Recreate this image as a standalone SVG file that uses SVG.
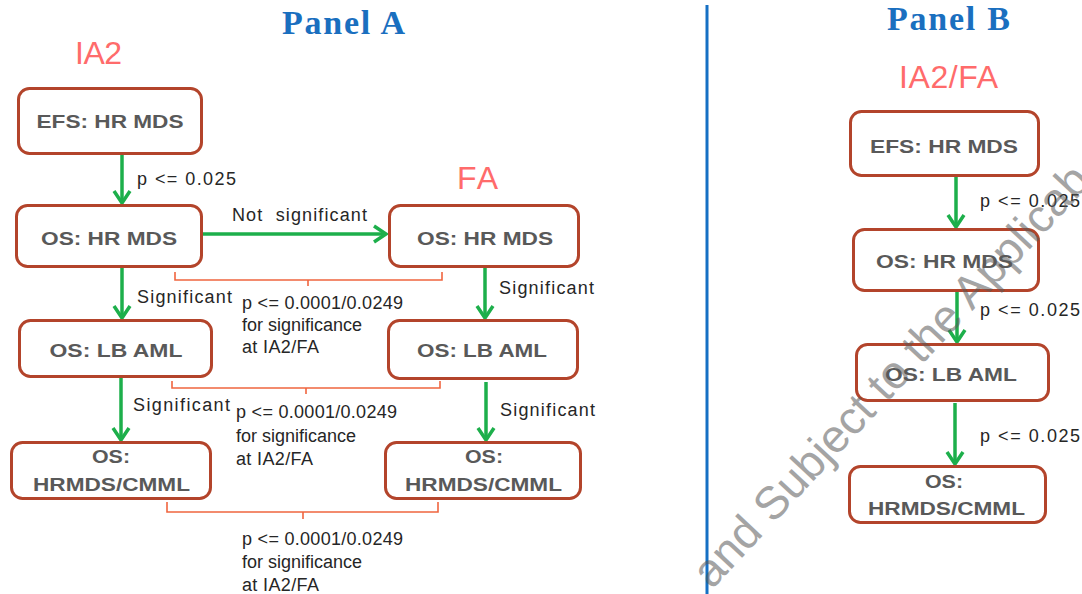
<svg xmlns="http://www.w3.org/2000/svg" width="1082" height="594" viewBox="0 0 1082 594">
<defs>
<style>
.title{font-family:"Liberation Serif","Times New Roman",serif;font-weight:bold;font-size:34px;fill:#1A6FBF}
.phase{font-family:"Liberation Sans",Arial,sans-serif;font-size:32px;fill:#FF6B6B}
.box{fill:#FFFFFF;stroke:#B3442B;stroke-width:3}
.nt{font-family:"Liberation Sans",Arial,sans-serif;font-weight:bold;font-size:19px;fill:#595959;text-anchor:middle}
.lbl{font-family:"Liberation Sans",Arial,sans-serif;font-size:18px;fill:#262626}
.arr{stroke:#1DAF4B;stroke-width:3.5;fill:none;marker-end:url(#ah)}
.br{stroke:#F0653F;stroke-width:1.6;fill:none}
.wm{font-family:"Liberation Sans",Arial,sans-serif;font-size:46px;fill:#5a5a5a;opacity:0.55}
</style>
<marker id="ah" viewBox="0 0 16 20" refX="14" refY="10" markerWidth="16" markerHeight="20" markerUnits="userSpaceOnUse" orient="auto">
<path d="M2,2 L14,10 L2,18" stroke="#1DAF4B" stroke-width="3.5" fill="none"/>
</marker>
</defs>
<rect width="1082" height="594" fill="#FFFFFF"/>

<!-- divider -->
<line id="divider" x1="707" y1="5" x2="707" y2="594" stroke="#1670C4" stroke-width="3"/>

<!-- headings -->
<g id="headings">
<text class="title" x="282" y="34" textLength="123">Panel A</text>
<text class="title" x="887" y="30" textLength="123">Panel B</text>
<text class="phase" x="75" y="64" textLength="47">IA2</text>
<text class="phase" x="457" y="189" textLength="41">FA</text>
<text class="phase" x="899" y="88" textLength="99">IA2/FA</text>
</g>

<!-- connectors -->
<g id="connectors">
<line class="arr" x1="122" y1="155" x2="122" y2="203"/>
<line class="arr" x1="203" y1="234" x2="386" y2="234"/>
<line class="arr" x1="122" y1="268" x2="122" y2="318"/>
<line class="arr" x1="485" y1="268" x2="485" y2="318"/>
<line class="arr" x1="121" y1="378" x2="121" y2="440"/>
<line class="arr" x1="486" y1="382" x2="486" y2="440"/>
<line class="arr" x1="956" y1="177" x2="956" y2="227"/>
<line class="arr" x1="957" y1="292" x2="957" y2="342"/>
<line class="arr" x1="955" y1="403" x2="955" y2="464"/>
<path class="br" d="M175,272 V280 H442 V272 M308,280 V286"/>
<path class="br" d="M172,381 V388 H440 V381 M306,388 V394"/>
<path class="br" d="M167,502 V512 H438 V502 M303,512 V519"/>
<text class="lbl" x="137" y="185" textLength="99">p &lt;= 0.025</text>
<text class="lbl" x="232" y="221" textLength="135" xml:space="preserve">Not  significant</text>
<text class="lbl" x="137" y="303" textLength="95">Significant</text>
<text class="lbl" x="499" y="294" textLength="95">Significant</text>
<text class="lbl" x="133" y="411" textLength="97">Significant</text>
<text class="lbl" x="500" y="416" textLength="95">Significant</text>
<text class="lbl" x="242" y="309" textLength="161">p &lt;= 0.0001/0.0249</text>
<text class="lbl" x="242" y="331" textLength="120">for significance</text>
<text class="lbl" x="242" y="353" textLength="77">at IA2/FA</text>
<text class="lbl" x="236" y="418" textLength="161">p &lt;= 0.0001/0.0249</text>
<text class="lbl" x="236" y="442" textLength="120">for significance</text>
<text class="lbl" x="236" y="465" textLength="77">at IA2/FA</text>
<text class="lbl" x="242" y="545" textLength="161">p &lt;= 0.0001/0.0249</text>
<text class="lbl" x="242" y="568" textLength="120">for significance</text>
<text class="lbl" x="242" y="591" textLength="77">at IA2/FA</text>
<text class="lbl" x="980" y="207" textLength="100">p &lt;= 0.025</text>
<text class="lbl" x="980" y="316" textLength="100">p &lt;= 0.025</text>
<text class="lbl" x="980" y="442" textLength="100">p &lt;= 0.025</text>
</g>

<!-- Panel A nodes -->
<g id="a-efs-hrmds">
<rect class="box" x="18.5" y="88.5" width="183" height="65" rx="11"/>
<text class="nt" x="110" y="128" textLength="147" lengthAdjust="spacingAndGlyphs">EFS: HR MDS</text>
</g>
<g id="a-ia2-os-hrmds">
<rect class="box" x="16.5" y="205.5" width="185" height="61" rx="11"/>
<text class="nt" x="109" y="245" textLength="136" lengthAdjust="spacingAndGlyphs">OS: HR MDS</text>
</g>
<g id="a-fa-os-hrmds">
<rect class="box" x="389.5" y="205.5" width="189" height="61" rx="11"/>
<text class="nt" x="485" y="245" textLength="136" lengthAdjust="spacingAndGlyphs">OS: HR MDS</text>
</g>
<g id="a-ia2-os-lbaml">
<rect class="box" x="19.5" y="320.5" width="192" height="56" rx="11"/>
<text class="nt" x="116" y="357" textLength="133" lengthAdjust="spacingAndGlyphs">OS: LB AML</text>
</g>
<g id="a-fa-os-lbaml">
<rect class="box" x="388.5" y="320.5" width="189" height="58" rx="11"/>
<text class="nt" x="482" y="357" textLength="130" lengthAdjust="spacingAndGlyphs">OS: LB AML</text>
</g>
<g id="a-ia2-os-hrmdscmml">
<rect class="box" x="11.5" y="442.5" width="199" height="56" rx="11"/>
<text class="nt" x="111" y="463" textLength="38" lengthAdjust="spacingAndGlyphs">OS:</text>
<text class="nt" x="111.5" y="491" textLength="157" lengthAdjust="spacingAndGlyphs">HRMDS/CMML</text>
</g>
<g id="a-fa-os-hrmdscmml">
<rect class="box" x="385.5" y="442.5" width="195" height="56" rx="11"/>
<text class="nt" x="484" y="463" textLength="38" lengthAdjust="spacingAndGlyphs">OS:</text>
<text class="nt" x="483.5" y="491" textLength="157" lengthAdjust="spacingAndGlyphs">HRMDS/CMML</text>
</g>

<!-- Panel B nodes -->
<g id="b-efs-hrmds">
<rect class="box" x="850.5" y="111.5" width="188" height="64" rx="11"/>
<text class="nt" x="944" y="153" textLength="148" lengthAdjust="spacingAndGlyphs">EFS: HR MDS</text>
</g>
<g id="b-os-hrmds">
<rect class="box" x="853.5" y="229.5" width="185" height="61" rx="11"/>
<text class="nt" x="944.5" y="268" textLength="137" lengthAdjust="spacingAndGlyphs">OS: HR MDS</text>
</g>
<g id="b-os-lbaml">
<rect class="box" x="856.5" y="344.5" width="192" height="56" rx="11"/>
<text class="nt" x="951" y="381" textLength="132" lengthAdjust="spacingAndGlyphs">OS: LB AML</text>
</g>
<g id="b-os-hrmdscmml">
<rect class="box" x="849.5" y="466.5" width="196" height="56" rx="11"/>
<text class="nt" x="944" y="488" textLength="38" lengthAdjust="spacingAndGlyphs">OS:</text>
<text class="nt" x="946.5" y="515" textLength="157" lengthAdjust="spacingAndGlyphs">HRMDS/CMML</text>
</g>

<!-- watermark -->
<text class="wm" transform="translate(712,590) rotate(-47)">and Subject to the Applicab</text>
</svg>
